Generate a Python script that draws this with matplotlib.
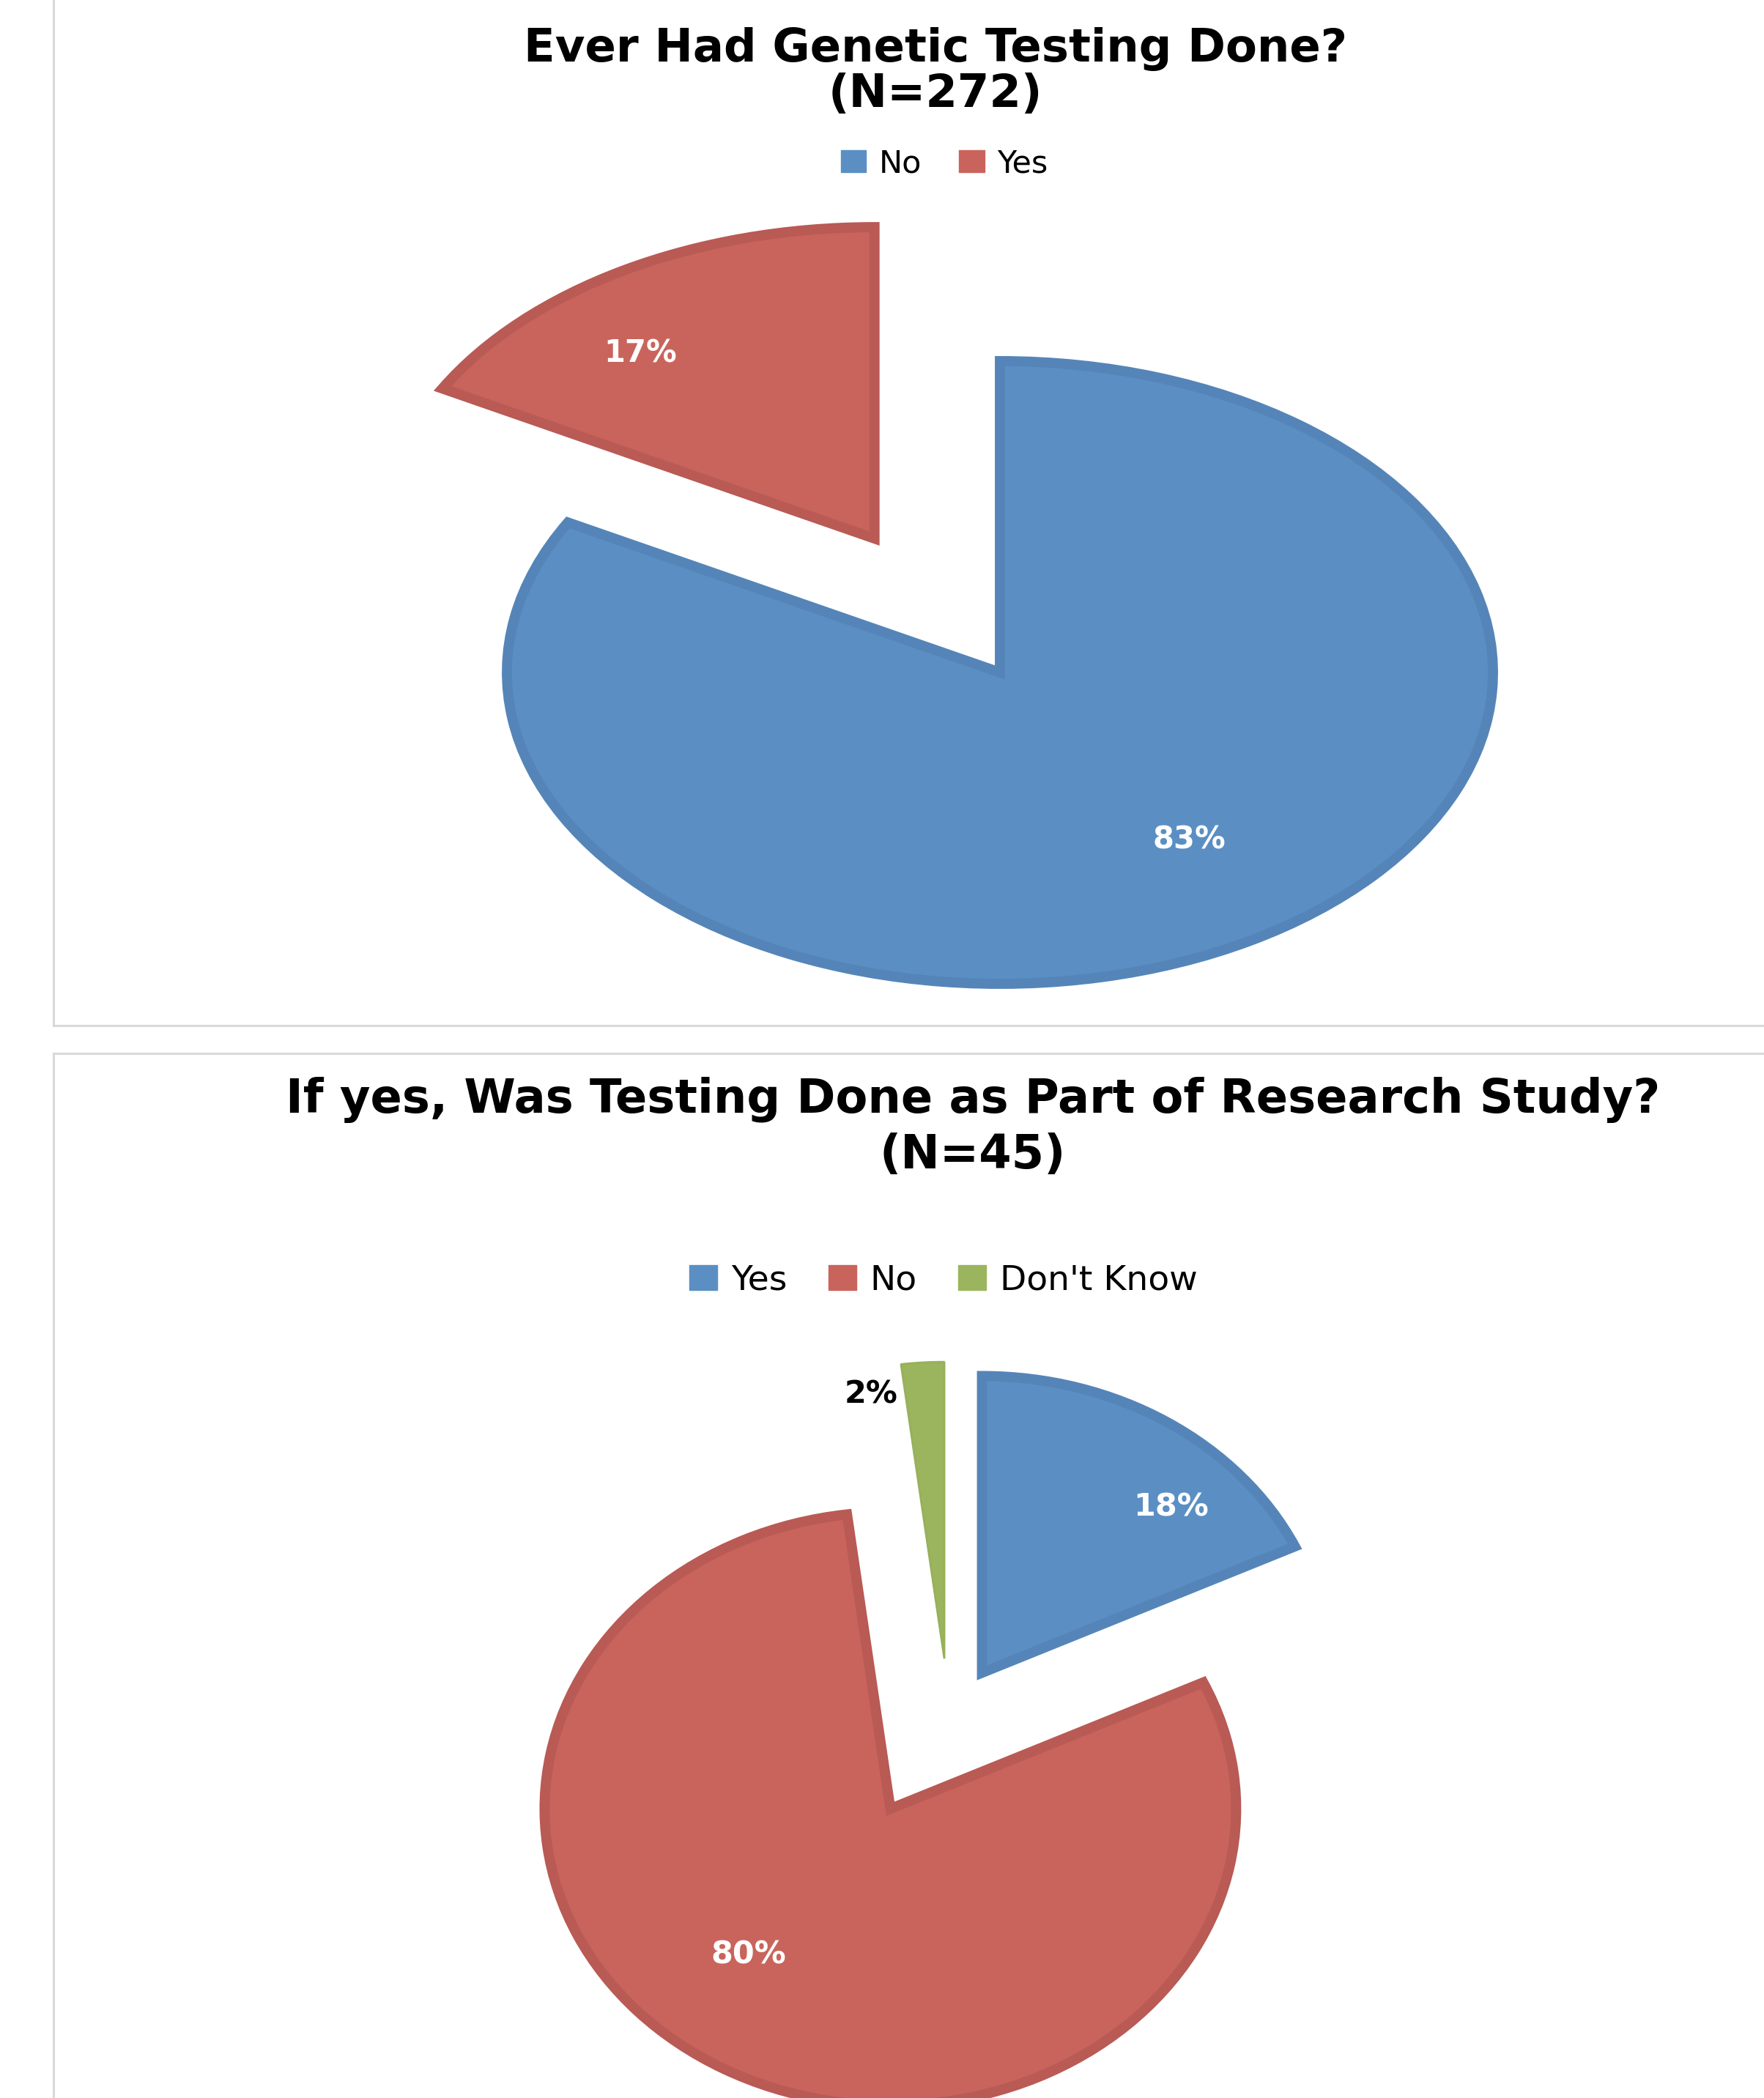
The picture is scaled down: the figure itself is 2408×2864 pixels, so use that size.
import numpy as np
import matplotlib
matplotlib.use("Agg")
import matplotlib.pyplot as plt
import matplotlib.patches as mpatches
from matplotlib.lines import Line2D

W, H = 2408, 2864  # output size in pixels
DPI = 100

# chart 1: ever had genetic testing
top_title = "Ever Had Genetic Testing Done?\n(N=272)"
top_labels = ["No", "Yes"]
top_values = [83, 17]
top_colors = ["#5b8fc4", "#c9645c"]
top_edges = ["#5585b8", "#b95a55"]
top_explode = [0, 0.5]

# chart 2: testing done as part of research study
bot_title = "If yes, Was Testing Done as Part of Research Study?\n(N=45)"
bot_labels = ["Yes", "No", "Don't Know"]
bot_values = [18, 80, 2]
bot_colors = ["#5b8fc4", "#c9645c", "#9bb55f"]
bot_edges = ["#5585b8", "#b95a55", "#97b15b"]
bot_explode = [0.18, 0.35, 0.2]


def px(x, y):
    # pixel position -> figure fraction
    return x / W, 1 - y / H


def draw_pie(fig, values, colors, edges, explode, cx, cy, rx, ry, fsize):
    ax = fig.add_axes([0, 0, 1, 1])
    ax.patch.set_alpha(0)
    wedges, _, autotexts = ax.pie(values, explode=explode, colors=colors,
                                  startangle=90, counterclock=False,
                                  autopct='%.0f%%',
                                  wedgeprops=dict(linewidth=10, joinstyle='miter'),
                                  textprops=dict(color='white', fontsize=fsize,
                                                 fontweight='bold'))
    for w, ec in zip(wedges, edges):
        w.set_edgecolor(ec)
        if w.theta2 - w.theta1 < 20:
            # thin slice: a fat mitered edge would overshoot the tip
            w.set_linewidth(2)
            w.set_joinstyle('bevel')
    # pies are stretched into ellipses like the original
    ax.set_aspect('auto')
    ax.set_xlim(-cx / rx, (W - cx) / rx)
    ax.set_ylim((cy - H) / ry, cy / ry)
    ax.axis('off')
    return ax, wedges, autotexts


def place_labels(wedges, texts, shifts):
    # "best fit" style: rotate off the bisector a bit and set distance
    for w, t, (dang, r) in zip(wedges, texts, shifts):
        mid = np.deg2rad((w.theta1 + w.theta2) / 2 + dang)
        t.set_position((w.center[0] + r * np.cos(mid), w.center[1] + r * np.sin(mid)))


fig = plt.figure(figsize=(W / DPI, H / DPI), dpi=DPI)

# panel borders
line_kw = dict(color='#d9d9d9', linewidth=2.2, transform=fig.transFigure)
fig.add_artist(Line2D([73 / W, 73 / W], [1, 1 - 1400 / H], **line_kw))
fig.add_artist(Line2D([73 / W, 1], [1 - 1400 / H, 1 - 1400 / H], **line_kw))
fig.add_artist(Line2D([73 / W, 1], [1 - 1438 / H, 1 - 1438 / H], **line_kw))
fig.add_artist(Line2D([73 / W, 73 / W], [1 - 1438 / H, 0], **line_kw))

# top chart
ax1, wedges1, texts1 = draw_pie(fig, top_values, top_colors, top_edges, top_explode,
                                1365, 918, 673, 425, 30)
place_labels(wedges1, texts1, [(5, 0.66), (8, 0.76)])
fig.text(*px(1277, 98), top_title, ha='center', va='center', fontsize=45,
         fontweight='bold', linespacing=1.05)
fig.legend(handles=[mpatches.Patch(color=c) for c in top_colors], labels=top_labels,
           loc='center', bbox_to_anchor=px(1289, 223), ncol=2, frameon=False,
           fontsize=31, handlelength=0.8, handleheight=0.7, handletextpad=0.4,
           columnspacing=1.2)

# bottom chart
ax2, wedges2, texts2 = draw_pie(fig, bot_values, bot_colors, bot_edges, bot_explode,
                                1295, 2345, 472, 405, 31)
place_labels(wedges2, texts2, [(-12, 0.78), (-11, 0.64), (5, 0.9)])
# small slice label sits outside, in black
texts2[2].set_color('black')
texts2[2].set_ha('right')

fig.text(*px(1328, 1539), bot_title, ha='center', va='center', fontsize=46,
         fontweight='bold', linespacing=1.28)
fig.legend(handles=[mpatches.Patch(color=c) for c in bot_colors], labels=bot_labels,
           loc='center', bbox_to_anchor=px(1288, 1748), ncol=3, frameon=False,
           fontsize=34, handlelength=0.8, handleheight=0.7, handletextpad=0.4,
           columnspacing=1.2)

fig.savefig('out.png', dpi=DPI)
